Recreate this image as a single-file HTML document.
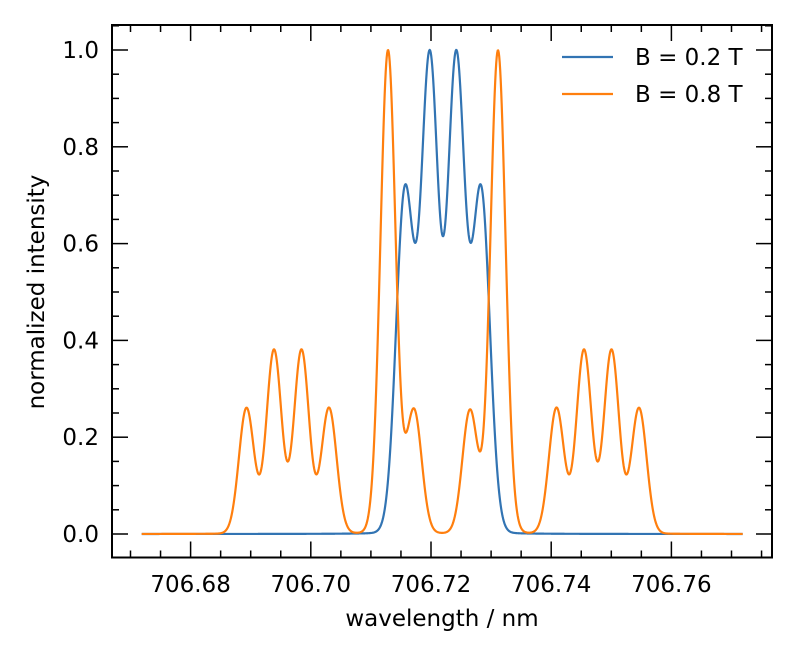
<!DOCTYPE html>
<html><head><meta charset="utf-8"><style>
html,body{margin:0;padding:0;background:#fff;}
svg{display:block;}
text{font-family:"DejaVu Sans","Liberation Sans",sans-serif;font-size:23px;fill:#000;}
</style></head><body>
<svg id="s" width="797" height="657" viewBox="0 0 797 657" xmlns="http://www.w3.org/2000/svg">
<rect width="797" height="657" fill="#fff"/>
<g id="curves"></g>
<g id="ticks" stroke="#000" stroke-width="1.5"></g>
<rect x="112" y="25" width="660" height="532.5" fill="none" stroke="#000" stroke-width="2"/>
<g id="labels"></g>
<text x="442" y="626" text-anchor="middle">wavelength / nm</text>
<text transform="translate(44,292) rotate(-90)" text-anchor="middle">normalized intensity</text>
<line x1="562" y1="57" x2="613" y2="57" stroke="#3274b3" stroke-width="2.2"/>
<line x1="562" y1="94" x2="613" y2="94" stroke="#ff7f0e" stroke-width="2.2"/>
<text x="635" y="65">B = 0.2 T</text>
<text x="635" y="102">B = 0.8 T</text>
</svg>
<script>
var NS="http://www.w3.org/2000/svg";
function X(l){return 431+(l-706.72)*6010;}
function Y(v){return 534-v*484;}
var tk=document.getElementById('ticks'),lb=document.getElementById('labels');
function ln(x1,y1,x2,y2){var e=document.createElementNS(NS,'line');e.setAttribute('x1',x1);e.setAttribute('y1',y1);e.setAttribute('x2',x2);e.setAttribute('y2',y2);tk.appendChild(e);}
function tx(x,y,s,a){var e=document.createElementNS(NS,'text');e.setAttribute('x',x);e.setAttribute('y',y);e.setAttribute('text-anchor',a);e.textContent=s;lb.appendChild(e);}
for(var i=0;i<=22;i++){var l=706.67+i*0.005;var x=X(l);if(x<112||x>772)continue;var maj=(i%4==2);var L=maj?16:7;
 ln(x,557.5,x,557.5-L);ln(x,25,x,25+L);
 if(maj)tx(x,592,l.toFixed(2),'middle');}
for(var i=-1;i<=21;i++){var v=i*0.05;var y=Y(v);if(y<25||y>557)continue;var maj=(i%4==0);var L=maj?16:7;
 ln(112,y,112+L,y);ln(772,y,772-L,y);
 if(maj)tx(99,y+8,v.toFixed(1),'end');}
function prof(p,comps,s){var v=0;for(var k=0;k<comps.length;k++){var d=p-comps[k][0];v+=comps[k][1]*(0.985*Math.exp(-d*d/(2*s*s))+0.015/(1+d*d/(s*s*1.5)));}return v;}
var blue=[[404.5,0.69],[417,0.07],[430,0.97],[456,0.97],[469,0.07],[481.5,0.69]];
var org=[[246.5,0.26],[274,0.38],[301.5,0.38],[329,0.26],[388,1],[414,0.255],[470,0.255],[498,1],[556.5,0.26],[584,0.38],[611.5,0.38],[639,0.26]];
function norm(c,s){var m=0;for(var p=130;p<760;p+=0.5){var v=prof(p,c,s);if(v>m)m=v;}return m;}
function path(c,s,col){var m=norm(c,s),d='';for(var p=141.7;p<=743;p+=0.5){d+=(d?'L':'M')+p.toFixed(1)+' '+Y(prof(p,c,s)/m).toFixed(2);}
 var e=document.createElementNS(NS,'path');e.setAttribute('d',d);e.setAttribute('fill','none');e.setAttribute('stroke',col);e.setAttribute('stroke-width','2.2');e.setAttribute('stroke-linejoin','round');document.getElementById('curves').appendChild(e);}
path(blue,8.6,'#3274b3');
path(org,7.6,'#ff7f0e');
</script>
</body></html>
